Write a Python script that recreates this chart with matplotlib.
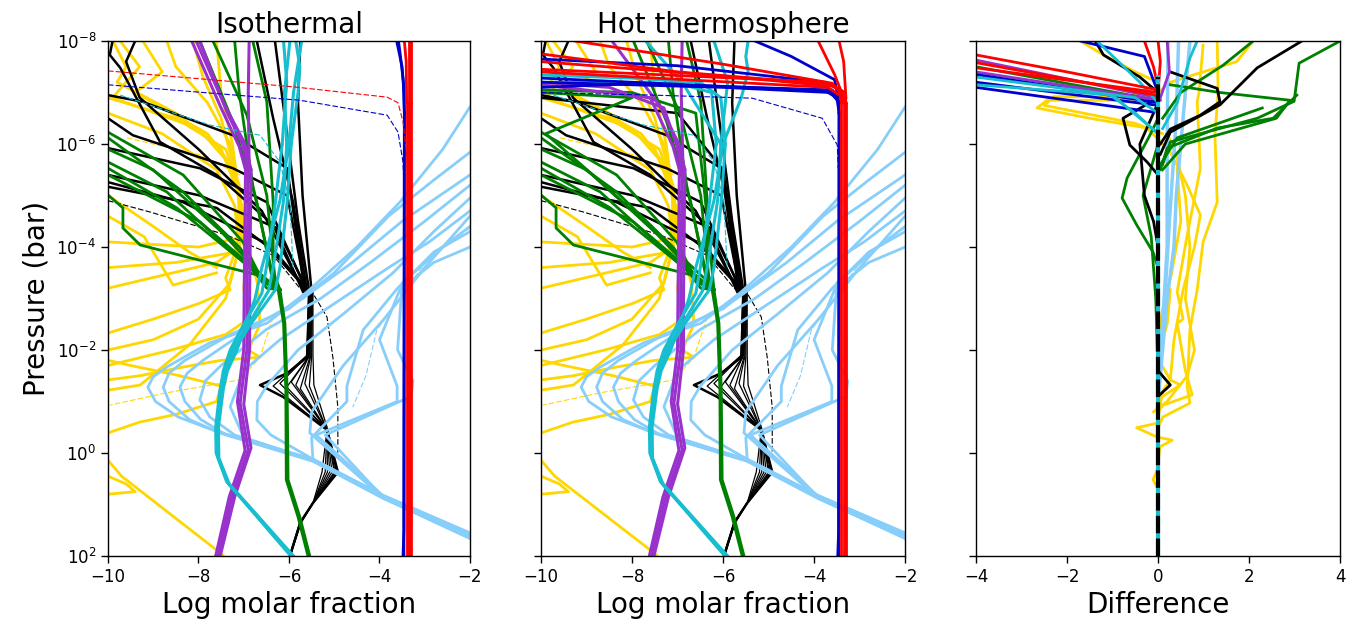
import numpy as np
import matplotlib
matplotlib.use("Agg")
import matplotlib.pyplot as plt
from matplotlib.ticker import NullLocator, FixedLocator

# ---------------- DATA: each curve is a list of (log10 molar fraction, log10 P[bar]) ----------
titles = ["Isothermal", "Hot thermosphere"]
xlabels = ["Log molar fraction", "Log molar fraction", "Difference"]
ylabel = "Pressure (bar)"
ytick_exp = [2, 0, -2, -4, -6, -8]
xticks_main = [-10, -8, -6, -4, -2]
xticks_diff = [-4, -2, 0, 2, 4]

red_low = [
    [(-3.30, 2.0), (-3.30, -6.8)],
    [(-3.35, 2.0), (-3.35, -6.8)],
    [(-3.40, 2.0), (-3.40, -6.8)],
]
red_iso_top = [
    [(-3.30, -6.8), (-3.30, -8.0)],
    [(-3.35, -6.8), (-3.35, -8.0)],
    [(-3.40, -6.8), (-3.41, -7.6), (-3.45, -8.0)],
]
red_hot_top = [
    [(-3.30, -6.8), (-3.32, -7.0), (-3.55, -7.12), (-6.0, -7.32), (-10.0, -7.60)],
    [(-3.35, -6.8), (-3.38, -7.02), (-3.65, -7.16), (-7.0, -7.40), (-10.0, -7.75)],
    [(-3.40, -6.8), (-3.45, -7.05), (-3.75, -7.20), (-10.0, -7.45)],
    [(-3.33, -6.9), (-3.60, -7.18), (-6.0, -7.55), (-9.25, -8.0)],
    [(-3.30, -6.9), (-3.35, -7.6), (-3.45, -8.0)],
    [(-3.35, -6.9), (-3.55, -7.35), (-3.91, -8.0)],
    [(-3.36, -6.9), (-3.70, -7.10), (-10.0, -7.40)],
]
red_dash_iso = [(-10.0, -7.42), (-5.9, -7.11), (-3.83, -6.91), (-3.59, -6.80), (-3.48, -6.43), (-3.36, -5.5)]

blue_low = [
    [(-3.48, 2.0), (-3.46, 1.5), (-3.45, -6.6)],
    [(-3.46, 2.0), (-3.45, -6.6)],
]
blue_iso_top = [
    [(-3.45, -6.6), (-3.46, -7.0), (-3.50, -7.5), (-3.62, -8.0)],
    [(-3.45, -6.6), (-3.47, -7.2), (-3.55, -7.8), (-3.58, -8.0)],
]
blue_hot_top = [
    [(-3.45, -6.6), (-3.47, -6.85), (-3.65, -7.0), (-6.0, -7.1), (-10.0, -7.2)],
    [(-3.45, -6.6), (-3.50, -6.9), (-3.75, -7.03), (-7.0, -7.16), (-10.0, -7.28)],
    [(-3.45, -6.8), (-3.60, -7.05), (-8.0, -7.17), (-10.0, -7.10)],
    [(-3.45, -6.8), (-3.55, -7.25), (-4.5, -7.7), (-5.3, -8.0)],
    [(-3.45, -6.8), (-3.80, -7.2), (-7.0, -7.52), (-10.0, -7.65)],
]
blue_dash_iso = [(-10.0, -7.15), (-7.75, -6.99), (-5.76, -6.85), (-3.83, -6.56), (-3.59, -6.23), (-3.48, -5.65), (-3.46, -5.2)]
blue_dash_hot = [(-10.0, -7.0), (-7.56, -6.95), (-5.36, -6.89), (-3.82, -6.5), (-3.49, -5.98), (-3.47, -5.53)]

purple_low = [
    [(-7.57, 2.0), (-7.26, 0.85), (-6.90, -0.06), (-7.08, -0.97), (-6.93, -2.0), (-6.93, -3.17), (-6.90, -5.5)],
    [(-7.52, 2.0), (-7.20, 0.85), (-6.84, -0.10), (-7.00, -0.95), (-6.87, -2.0), (-6.87, -3.10), (-6.84, -5.5)],
    [(-7.62, 2.0), (-7.32, 0.85), (-6.97, -0.05), (-7.14, -1.00), (-7.00, -2.0), (-6.99, -3.10), (-6.96, -5.5)],
]
purple_iso_top = [
    [(-6.90, -5.5), (-7.02, -5.98), (-7.37, -6.62), (-7.97, -8.0)],
    [(-6.84, -5.5), (-6.98, -6.02), (-7.45, -6.8), (-8.05, -8.0)],
    [(-6.96, -5.5), (-7.10, -5.95), (-7.50, -6.7), (-8.15, -8.0)],
    [(-6.88, -5.5), (-6.90, -7.0), (-6.88, -8.0)],
]
purple_hot_top = [
    [(-6.90, -5.5), (-7.02, -5.98), (-7.30, -6.7), (-8.5, -7.1), (-10.0, -7.2)],
    [(-6.84, -5.5), (-6.98, -6.02), (-7.40, -6.75), (-8.44, -8.0)],
    [(-6.96, -5.5), (-7.10, -5.95), (-7.60, -6.9), (-10.0, -7.15)],
    [(-6.88, -5.5), (-6.92, -7.0), (-6.90, -8.0)],
]

cyan_low = [
    [(-5.93, 2.0), (-7.35, 0.58), (-7.57, 0.08), (-7.58, -0.5), (-7.48, -1.22), (-7.40, -1.6), (-7.20, -2.0), (-6.85, -2.5), (-6.30, -3.17), (-6.20, -3.6), (-6.04, -4.87), (-5.95, -6.0)],
    [(-5.96, 2.0), (-7.38, 0.55), (-7.61, 0.00), (-7.62, -0.5), (-7.53, -1.20), (-7.45, -1.6), (-7.30, -2.0), (-7.00, -2.5), (-6.60, -3.10), (-6.50, -3.6), (-6.30, -4.87), (-6.15, -6.0)],
    [(-5.90, 2.0), (-7.32, 0.60), (-7.55, 0.10), (-7.56, -0.5), (-7.45, -1.25), (-7.36, -1.6), (-7.15, -2.0), (-6.95, -2.5), (-6.75, -3.00), (-6.60, -3.6), (-6.20, -4.90), (-6.00, -6.0)],
    [(-5.92, 2.0), (-7.36, 0.57), (-7.58, 0.05), (-7.60, -0.5), (-7.50, -1.20), (-7.42, -1.6), (-7.25, -2.0), (-6.90, -2.5), (-6.45, -3.15), (-6.35, -3.6), (-6.12, -4.90), (-6.05, -6.0)],
]
cyan_iso_top = [
    [(-5.95, -6.0), (-5.80, -7.0), (-5.76, -7.5), (-5.85, -8.0)],
    [(-6.15, -6.0), (-6.05, -7.2), (-6.12, -8.0)],
    [(-6.00, -6.0), (-5.90, -7.0), (-5.72, -8.0)],
    [(-6.05, -6.0), (-6.10, -7.0), (-5.98, -8.0)],
]
cyan_hot_top = [
    [(-5.95, -6.0), (-6.05, -6.9), (-6.5, -7.2), (-8.0, -7.28), (-10.0, -7.34)],
    [(-6.15, -6.0), (-6.25, -7.0), (-7.0, -7.18), (-10.0, -7.2)],
    [(-6.00, -6.0), (-5.60, -6.9), (-5.45, -7.4), (-5.50, -7.7), (-5.45, -8.0)],
    [(-6.05, -6.0), (-5.90, -7.2), (-6.20, -8.0)],
    [(-6.05, -6.0), (-6.90, -7.2), (-7.70, -8.0)],
]
cyan_dash_iso = [(-9.73, -6.95), (-8.41, -6.56), (-7.75, -6.37), (-6.64, -6.17), (-6.2, -5.65), (-5.98, -4.87), (-5.91, -3.59)]

green_trunk = [
    [(-5.54, 2.0), (-5.76, 1.24), (-6.02, 0.52), (-6.04, -1.22), (-6.09, -2.52), (-6.20, -3.17)],
    [(-5.58, 2.0), (-5.80, 1.24), (-6.06, 0.52), (-6.07, -1.22), (-6.12, -2.52), (-6.24, -3.17)],
]
green_branches = [
    [(-6.20, -3.17), (-6.49, -3.20), (-6.71, -3.46), (-9.29, -4.04), (-9.67, -4.37), (-9.67, -4.76), (-10.0, -5.01)],
    [(-6.20, -3.17), (-6.57, -3.32), (-7.02, -4.10), (-8.34, -5.40), (-10.0, -6.23)],
    [(-6.20, -3.17), (-6.57, -3.32), (-7.08, -3.98), (-8.34, -5.07), (-10.0, -6.12)],
    [(-6.20, -3.17), (-6.50, -3.30), (-7.24, -3.90), (-8.70, -5.07), (-10.0, -5.65)],
    [(-6.20, -3.17), (-6.45, -3.30), (-7.00, -3.70), (-8.48, -4.76), (-10.0, -5.53)],
    [(-6.20, -3.17), (-6.40, -3.30), (-7.97, -4.49), (-10.0, -5.40)],
    [(-6.20, -3.17), (-6.45, -3.30), (-7.50, -4.30), (-9.00, -5.50), (-10.0, -5.90)],
    [(-6.20, -3.17), (-6.35, -3.30), (-6.71, -4.87), (-7.24, -6.43), (-7.97, -8.0)],
    [(-6.20, -3.17), (-6.30, -3.30), (-6.49, -5.00), (-6.93, -6.56), (-7.68, -8.0)],
    [(-6.20, -3.17), (-6.35, -3.50), (-6.35, -4.87), (-6.49, -6.82), (-6.80, -8.0)],
    [(-6.20, -3.17), (-6.40, -3.60), (-6.80, -5.20), (-7.10, -7.00), (-7.20, -8.0)],
]
green_hot_extra = [
    [(-6.20, -3.17), (-6.40, -5.0), (-6.60, -6.6), (-8.0, -7.0), (-10.0, -7.05)],
    [(-6.30, -3.30), (-8.60, -5.2), (-9.90, -6.2), (-8.0, -6.9), (-10.0, -7.0)],
]

black_low = [
    [(-5.98, 2.0), (-5.75, 1.35), (-5.47, 0.97), (-4.92, 0.37), (-5.16, -0.45), (-6.13, -1.09), (-6.64, -1.32), (-6.04, -1.55), (-5.60, -1.86), (-5.55, -3.13)],
    [(-5.98, 2.0), (-5.75, 1.35), (-5.47, 0.97), (-5.00, 0.37), (-5.16, -0.45), (-6.35, -1.30), (-5.60, -1.90), (-5.57, -3.13)],
    [(-5.97, 2.0), (-5.74, 1.35), (-5.47, 0.97), (-5.27, 0.37), (-5.16, -0.45), (-6.20, -1.35), (-5.60, -1.88), (-5.56, -3.13)],
    [(-5.98, 2.0), (-5.76, 1.35), (-5.47, 0.97), (-4.95, 0.37), (-5.16, -0.45), (-6.05, -1.28), (-5.58, -1.85), (-5.54, -3.13)],
    [(-5.99, 2.0), (-5.75, 1.35), (-5.47, 0.97), (-5.10, 0.37), (-5.16, -0.45), (-5.95, -1.38), (-5.57, -1.86), (-5.53, -3.13)],
    [(-5.98, 2.0), (-5.73, 1.35), (-5.47, 0.97), (-5.20, 0.37), (-5.16, -0.45), (-5.85, -1.32), (-5.55, -1.90), (-5.52, -3.13)],
    [(-5.97, 2.0), (-5.75, 1.35), (-5.47, 0.97), (-4.98, 0.37), (-5.16, -0.45), (-5.75, -1.25), (-5.54, -1.86), (-5.50, -3.13)],
    [(-5.98, 2.0), (-5.74, 1.35), (-5.47, 0.97), (-5.05, 0.37), (-5.16, -0.45), (-5.65, -1.35), (-5.52, -1.88), (-5.49, -3.13)],
    [(-5.99, 2.0), (-5.76, 1.35), (-5.47, 0.97), (-5.15, 0.37), (-5.16, -0.45), (-5.55, -1.30), (-5.50, -1.86), (-5.48, -3.13)],
    [(-5.98, 2.0), (-5.75, 1.35), (-5.47, 0.97), (-4.93, 0.37), (-5.14, -0.45), (-5.45, -1.32), (-5.47, -1.90), (-5.47, -3.13)],
]
black_up = [
    [(-5.69, -3.13), (-6.35, -4.43), (-7.60, -5.40), (-8.85, -6.04), (-9.73, -7.48), (-9.96, -7.73), (-9.90, -8.0)],
    [(-5.65, -3.13), (-6.04, -5.53), (-7.24, -6.17), (-9.23, -6.82), (-10.0, -6.95)],
    [(-5.62, -3.13), (-6.04, -5.00), (-7.24, -5.53), (-9.45, -6.17), (-10.0, -6.50)],
    [(-5.60, -3.13), (-6.49, -4.87), (-7.97, -5.53), (-10.0, -5.92)],
    [(-5.58, -3.13), (-6.27, -4.37), (-7.97, -5.00), (-10.0, -5.40)],
    [(-5.56, -3.13), (-6.57, -4.10), (-8.34, -4.87), (-10.0, -5.26)],
    [(-5.55, -3.13), (-6.30, -3.90), (-7.60, -4.76), (-10.0, -5.17)],
    [(-5.60, -3.13), (-5.91, -4.87), (-6.35, -6.50), (-6.71, -8.0)],
    [(-5.55, -3.13), (-5.80, -4.50), (-6.04, -6.17), (-6.31, -8.0)],
    [(-5.50, -3.13), (-5.70, -5.00), (-5.80, -6.80), (-5.75, -8.0)],
    [(-5.66, -3.13), (-6.60, -4.70), (-8.00, -5.90), (-9.30, -6.90), (-9.60, -7.60), (-9.40, -8.0)],
]
black_hot_extra = [
    [(-5.60, -3.13), (-6.00, -5.50), (-7.00, -6.60), (-10.0, -6.90)],
]
black_dash = [(-10.0, -4.9), (-9.07, -4.68), (-7.37, -4.23), (-6.35, -3.84), (-5.76, -3.2), (-5.47, -3.1),
              (-5.16, -2.64), (-5.03, -1.86), (-4.92, -0.89), (-4.92, 0.08)]

lightblue = [
    [(-2.0, 1.55), (-3.92, 0.82), (-5.47, 0.12), (-7.60, -0.42), (-8.45, -0.70), (-8.95, -1.00), (-9.12, -1.28), (-9.00, -1.48), (-8.70, -1.67), (-8.20, -1.92), (-7.75, -2.14), (-6.49, -2.52), (-5.60, -3.13), (-4.50, -4.00), (-3.55, -4.87), (-2.60, -5.90), (-2.0, -6.72)],
    [(-2.0, 1.60), (-3.92, 0.86), (-5.47, 0.15), (-7.50, -0.38), (-8.20, -0.65), (-8.65, -1.00), (-8.78, -1.28), (-8.65, -1.55), (-8.30, -1.80), (-7.30, -2.30), (-6.00, -2.80), (-5.00, -3.50), (-3.80, -4.60), (-2.80, -5.30), (-2.0, -5.84)],
    [(-2.0, 1.65), (-3.92, 0.88), (-5.47, 0.16), (-7.40, -0.36), (-7.95, -0.65), (-8.30, -1.00), (-8.41, -1.28), (-8.25, -1.55), (-7.90, -1.80), (-6.90, -2.40), (-5.70, -3.00), (-4.60, -3.70), (-3.50, -4.50), (-2.0, -5.40)],
    [(-2.0, 1.62), (-3.92, 0.84), (-5.47, 0.13), (-7.20, -0.35), (-7.75, -0.70), (-7.97, -1.03), (-7.85, -1.40), (-7.50, -1.70), (-6.50, -2.40), (-5.30, -3.00), (-4.20, -3.70), (-3.00, -4.50), (-2.0, -5.20)],
    [(-2.0, 1.58), (-3.92, 0.83), (-5.47, 0.12), (-6.40, -0.35), (-6.71, -0.64), (-6.70, -1.00), (-6.50, -1.30), (-5.80, -2.00), (-4.80, -2.70), (-3.70, -3.50), (-2.80, -4.30), (-2.0, -4.95)],
    [(-2.0, 1.66), (-3.92, 0.87), (-5.54, -0.39), (-5.50, -0.80), (-4.80, -1.70), (-3.90, -2.60), (-3.00, -3.60), (-2.0, -4.60)],
    [(-2.0, 1.63), (-3.92, 0.85), (-5.47, 0.14), (-5.50, -0.30), (-4.72, -1.00), (-4.72, -1.30), (-4.36, -2.39), (-3.60, -3.20), (-2.80, -3.90), (-2.0, -4.30)],
    [(-2.0, 1.57), (-3.92, 0.83), (-5.40, -0.35), (-3.61, -1.00), (-3.61, -1.30), (-4.00, -2.20), (-3.55, -3.17), (-2.80, -3.70), (-2.0, -4.00)],
    [(-2.0, 1.64), (-3.92, 0.86), (-5.20, -0.35), (-3.30, -1.10), (-3.26, -1.40), (-3.60, -2.00), (-3.50, -3.30), (-2.60, -4.00), (-2.0, -4.40)],
    [(-2.0, 1.60), (-3.92, 0.84), (-5.47, 0.14), (-7.00, -0.30), (-7.30, -0.90), (-7.00, -1.60), (-6.20, -2.20), (-5.00, -2.90), (-3.80, -3.60), (-2.90, -4.10), (-2.0, -4.70)],
]
lightblue_dash = [(-2.0, -4.37), (-2.82, -3.9), (-4.06, -2.39), (-4.3, -1.5), (-4.59, -0.89)]

yellow = [
    [(-10.0, 0.14), (-9.70, 0.45), (-7.46, 1.98)],
    [(-10.0, 0.45), (-9.60, 0.60), (-9.40, 0.75), (-10.0, 0.80)],
    [(-9.89, -8.0), (-9.60, -7.5), (-9.80, -7.2), (-8.50, -6.6), (-7.50, -5.9), (-7.10, -5.0), (-7.15, -4.0), (-7.40, -3.4), (-7.30, -3.17), (-7.97, -2.91), (-9.00, -2.6), (-10.0, -2.33)],
    [(-9.73, -8.0), (-9.30, -7.5), (-9.90, -6.9), (-8.00, -6.3), (-7.30, -5.6), (-7.05, -4.8), (-7.10, -4.0), (-7.60, -3.7), (-10.0, -3.2)],
    [(-9.23, -8.0), (-8.80, -7.4), (-9.40, -7.0), (-7.80, -6.2), (-7.20, -5.5), (-7.00, -4.5), (-7.20, -3.9), (-8.50, -3.7), (-10.0, -3.6)],
    [(-8.70, -8.0), (-8.50, -7.5), (-7.80, -6.8), (-7.30, -6.0), (-7.10, -5.0), (-7.00, -4.2), (-8.00, -4.0), (-10.0, -4.1)],
    [(-8.12, -8.0), (-7.90, -7.3), (-7.50, -6.5), (-7.20, -5.5), (-7.05, -4.5), (-6.95, -3.7), (-7.00, -3.2), (-6.90, -2.6), (-7.40, -2.3), (-8.60, -2.0), (-10.0, -1.7)],
    [(-7.60, -8.0), (-7.50, -7.0), (-7.25, -6.0), (-7.10, -5.0), (-6.90, -4.0), (-6.70, -3.3), (-6.64, -2.5), (-6.90, -2.0), (-6.64, -1.86), (-7.50, -1.80), (-8.34, -1.67), (-9.30, -1.5), (-10.0, -1.42)],
    [(-10.0, -6.90), (-8.50, -6.50), (-7.40, -5.90), (-7.10, -5.20), (-7.00, -4.40), (-7.30, -3.30), (-8.00, -2.60), (-9.00, -2.20), (-10.0, -2.00)],
    [(-10.0, -6.60), (-8.80, -6.20), (-7.60, -5.50), (-7.20, -4.80), (-7.10, -4.00), (-7.40, -3.00), (-8.20, -2.10), (-9.29, -1.32), (-10.0, -1.22)],
    [(-10.0, -0.39), (-9.30, -0.60), (-8.50, -0.75), (-7.60, -1.00), (-7.50, -1.30), (-8.41, -1.50), (-9.50, -1.70), (-10.0, -1.80)],
    [(-10.0, -5.0), (-9.0, -4.4), (-8.2, -3.9), (-7.6, -3.6)],
    [(-10.0, -4.6), (-9.2, -4.2), (-8.56, -3.26), (-8.0, -3.4), (-7.6, -3.5)],
]
yellow_dash = [
    [(-9.58, -6.12), (-7.97, -5.79), (-7.08, -5.4)],
    [(-6.35, -2.64), (-6.64, -1.86), (-7.08, -1.42), (-8.7, -1.17), (-9.96, -0.93)],
]

# ---- difference panel ----
d_red = [
    [(-4.0, -7.73), (-2.0, -7.40), (0.0, -7.05)],
    [(-4.0, -7.48), (0.0, -7.00)],
    [(-4.0, -7.58), (-0.05, -6.95)],
    [(0.0, -8.0), (0.05, -7.6), (0.0, -7.0)],
    [(-0.3, -8.0), (-0.1, -7.5), (0.0, -7.1)],
]
d_blue = [
    [(-4.0, -7.20), (0.0, -6.75)],
    [(-4.0, -7.10), (-0.1, -6.62)],
    [(-4.0, -7.35), (0.0, -6.80)],
    [(-1.7, -8.0), (-0.3, -7.7), (0.0, -7.0)],
]
d_purple = [
    [(-4.0, -7.63), (0.0, -6.90)],
    [(-4.0, -7.40), (0.05, -6.85)],
    [(0.2, -8.0), (0.25, -7.4), (0.05, -6.9)],
]
d_cyan = [
    [(-4.0, -7.30), (-0.5, -6.90), (0.0, -6.60)],
    [(-4.0, -7.15), (-1.0, -6.95), (0.0, -6.20)],
    [(-1.34, -8.0), (-0.4, -7.2), (0.0, -6.8)],
    [(0.86, -8.0), (0.7, -7.67), (0.42, -6.8), (0.1, -6.3)],
    [(-1.05, -6.95), (-0.5, -6.6), (0.0, -6.2)],
]
d_green = [
    [(-4.0, -7.50), (0.0, -6.85)],
    [(4.0, -8.0), (3.1, -7.57), (2.99, -6.83), (2.18, -6.5), (0.27, -6.04), (0.1, -5.6)],
    [(2.09, -8.0), (1.43, -7.53), (0.5, -7.0), (0.1, -6.5)],
    [(3.05, -6.95), (2.53, -6.5), (1.3, -6.31), (0.2, -5.92), (0.05, -5.5)],
    [(2.29, -6.7), (0.42, -6.12), (0.05, -5.6)],
    [(0.27, -7.15), (1.36, -7.0), (2.9, -6.85), (2.6, -6.5), (0.6, -6.0), (0.1, -5.5)],
    [(0.0, -6.5), (-0.18, -6.17), (-0.68, -5.34), (-0.79, -4.95), (-0.47, -4.43), (-0.11, -3.9), (0.0, -3.6)],
    [(0.0, -6.0), (-0.33, -5.0), (-0.15, -4.2), (-0.05, -3.0), (0.0, -1.5)],
]
d_black = [
    [(3.16, -8.0), (2.18, -7.48), (1.36, -6.76), (0.27, -6.23), (0.05, -5.8)],
    [(0.27, -7.4), (1.3, -7.08), (1.36, -6.82), (0.93, -6.56), (0.27, -6.29), (0.05, -6.0)],
    [(0.0, -6.9), (-0.77, -6.5), (-0.62, -5.98), (-0.24, -5.65), (0.0, -5.4)],
    [(-1.38, -8.0), (-1.2, -7.73), (-0.4, -7.3), (0.0, -7.0)],
    [(0.0, -1.6), (0.27, -1.32), (0.0, -1.1)],
    [(0.0, -6.8), (-0.4, -6.0), (-0.3, -5.0), (-0.1, -4.5), (0.0, -4.0)],
]
d_yellow = [
    [(0.0, -6.9), (-1.0, -6.85), (-2.44, -6.85), (-2.66, -6.7), (-1.5, -6.5), (-0.24, -6.31), (0.1, -6.0)],
    [(0.1, -6.2), (-0.5, -6.4), (-2.5, -6.75), (-2.3, -6.92), (-0.8, -6.92), (0.0, -7.0)],
    [(1.3, -8.0), (1.32, -7.0), (1.25, -6.17), (1.3, -4.87), (0.99, -4.1), (0.86, -3.17), (0.7, -2.39), (0.64, -1.28), (0.7, -0.97), (0.11, -0.7), (0.0, -0.5)],
    [(0.99, -7.92), (0.9, -7.0), (0.86, -6.82), (0.93, -5.53), (0.64, -4.23), (0.42, -3.13), (0.55, -2.6), (0.42, -2.52), (0.6, -1.6), (0.75, -1.13), (0.11, -0.93), (0.0, -0.8)],
    [(0.27, -5.84), (0.64, -5.2), (0.93, -4.62), (0.8, -4.0), (0.55, -3.17), (0.35, -2.2), (0.27, -1.42), (0.49, -1.32), (0.1, -1.1)],
    [(2.09, -8.0), (1.73, -7.6), (0.99, -7.4), (0.27, -7.2), (0.0, -7.0)],
    [(-1.71, -8.0), (-1.2, -7.73), (-0.5, -7.4), (0.0, -7.2)],
    [(0.27, -3.17), (0.2, -2.5), (-0.02, -1.86), (0.27, -1.42), (0.1, -1.2), (-0.02, -0.58), (-0.47, -0.49), (-0.02, -0.31), (0.31, -0.25), (0.04, -0.12), (0.0, 0.2)],
    [(0.0, 0.2), (-0.02, 0.33), (-0.11, 0.52), (-0.02, 0.66), (0.0, 0.8)],
    [(0.42, -5.53), (0.5, -4.5), (0.3, -3.5), (0.1, -2.8), (0.0, -2.2)],
    [(0.2, -6.2), (0.4, -5.8), (0.6, -5.0), (0.7, -4.0), (0.6, -3.0), (0.8, -2.0), (0.64, -1.5), (0.2, -1.0), (-0.1, -0.8)],
]
d_lightblue = [
    [(0.7, -8.0), (0.6, -7.0), (0.5, -6.0), (0.4, -5.0), (0.35, -4.0), (0.2, -3.0), (0.1, -2.0), (0.05, -1.5), (0.0, -1.0), (0.0, 2.0)],
    [(0.45, -8.0), (0.4, -6.5), (0.25, -4.5), (0.15, -3.0), (0.05, -1.8), (0.0, -1.2)],
    [(0.22, -8.0), (0.2, -6.0), (0.2, -4.0), (0.1, -2.5), (0.0, -1.5)],
]
d_center = [(0.0, 2.0), (0.0, -7.3)]

# ---------------- STYLE ----------------
C_RED = "red"
C_BLUE = "mediumblue"
C_PURPLE = "darkorchid"
C_CYAN = "#17becf"
C_GREEN = "green"
C_GOLD = "gold"
C_LB = "lightskyblue"
C_BLACK = "black"


def draw(ax, curves, color, lw=2.0, **kw):
    for c in curves:
        a = np.asarray(c, dtype=float)
        ax.plot(a[:, 0], 10.0 ** a[:, 1], color=color, lw=lw, **kw)


fig = plt.figure(figsize=(13.67, 6.33), dpi=100)
ax1 = fig.add_axes([0.0790, 0.1216, 0.2648, 0.8136])
ax2 = fig.add_axes([0.3958, 0.1216, 0.2663, 0.8136])
ax3 = fig.add_axes([0.7140, 0.1216, 0.2663, 0.8136])

dash_kw = dict(lw=0.8, ls=(0, (5, 2)))

for k, ax in enumerate([ax1, ax2]):
    hot = (k == 1)
    draw(ax, yellow, C_GOLD)
    draw(ax, yellow_dash, C_GOLD, **dash_kw)
    draw(ax, black_low[:1], C_BLACK, lw=1.8)
    draw(ax, black_low[1:], C_BLACK, lw=0.9)
    draw(ax, black_up, C_BLACK, lw=1.8)
    if hot:
        draw(ax, black_hot_extra, C_BLACK, lw=1.8)
    draw(ax, [black_dash], C_BLACK, **dash_kw)
    draw(ax, lightblue, C_LB)
    draw(ax, [lightblue_dash], C_LB, **dash_kw)
    draw(ax, green_trunk, C_GREEN)
    draw(ax, green_branches, C_GREEN)
    if hot:
        draw(ax, green_hot_extra, C_GREEN)
    draw(ax, purple_low, C_PURPLE, lw=2.2)
    draw(ax, purple_hot_top if hot else purple_iso_top, C_PURPLE, lw=2.2)
    draw(ax, [cyan_dash_iso], C_CYAN, **dash_kw)
    draw(ax, cyan_low, C_CYAN, lw=2.2)
    draw(ax, cyan_hot_top if hot else cyan_iso_top, C_CYAN, lw=2.2)
    draw(ax, blue_low, C_BLUE)
    draw(ax, blue_hot_top if hot else blue_iso_top, C_BLUE)
    draw(ax, [blue_dash_hot if hot else blue_dash_iso], C_BLUE, **dash_kw)
    draw(ax, red_low, C_RED)
    draw(ax, red_hot_top if hot else red_iso_top, C_RED)
    if not hot:
        draw(ax, [red_dash_iso], C_RED, **dash_kw)
    ax.set_xlim(-10, -2)
    ax.set_xticks(xticks_main)
    ax.set_title(titles[k], fontsize=20)

# difference panel
draw(ax3, d_yellow, C_GOLD)
draw(ax3, d_lightblue, C_LB, lw=2.5)
draw(ax3, d_green, C_GREEN)
draw(ax3, d_black, C_BLACK)
draw(ax3, d_purple, C_PURPLE)
draw(ax3, d_blue, C_BLUE)
draw(ax3, d_cyan, C_CYAN)
draw(ax3, d_red, C_RED)
draw(ax3, [d_center], C_CYAN, lw=3.0)
draw(ax3, [d_center], C_BLACK, lw=3.0, ls=(0, (4.2, 1.25)))
ax3.set_xlim(-4, 4)
ax3.set_xticks(xticks_diff)

for k, ax in enumerate([ax1, ax2, ax3]):
    ax.set_yscale("log")
    ax.set_ylim(10.0 ** 2, 10.0 ** -8)
    ax.yaxis.set_major_locator(FixedLocator([10.0 ** e for e in ytick_exp]))
    ax.yaxis.set_minor_locator(NullLocator())
    ax.tick_params(labelsize=12, length=5, width=1)
    ax.set_xlabel(xlabels[k], fontsize=20)
    for s in ax.spines.values():
        s.set_linewidth(1.0)
    if k > 0:
        ax.tick_params(labelleft=False)
ax1.set_ylabel(ylabel, fontsize=20)

fig.savefig("out.png", dpi=100)
